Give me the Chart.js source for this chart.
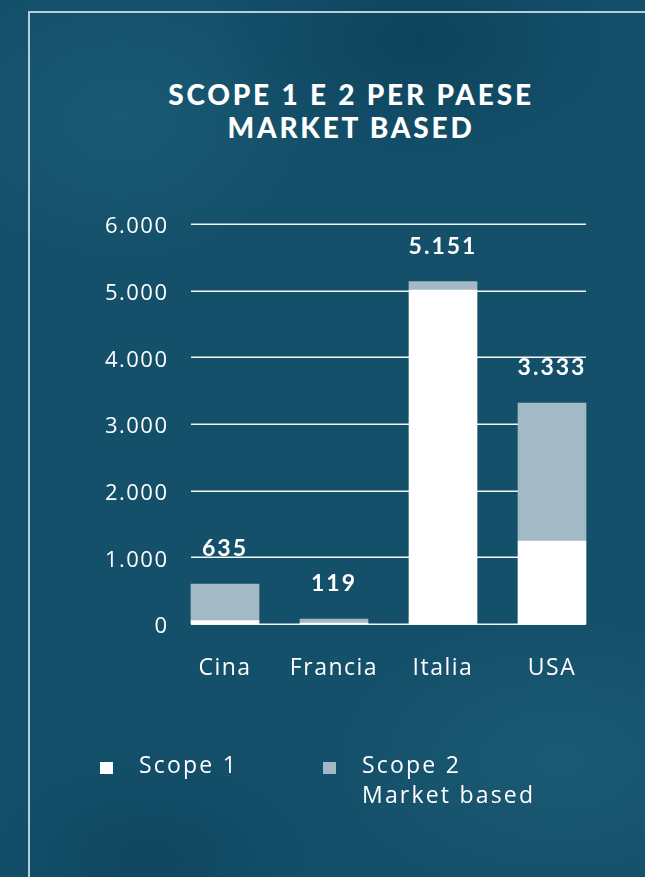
<!DOCTYPE html>
<html lang="it">
<head>
<meta charset="utf-8">
<title>Scope 1 e 2 per paese - market based</title>
<script src="https://cdn.jsdelivr.net/npm/chart.js@4.4.1/dist/chart.umd.min.js"></script>
<style>
  html, body { margin: 0; padding: 0; }
  body {
    width: 645px; height: 877px; overflow: hidden; position: relative;
    background:
      radial-gradient(ellipse 260px 200px at 120px 120px, rgba(40,105,130,0.35), rgba(40,105,130,0) 70%),
      radial-gradient(ellipse 300px 180px at 420px 40px, rgba(5,50,75,0.45), rgba(5,50,75,0) 70%),
      radial-gradient(ellipse 320px 200px at 560px 760px, rgba(45,110,135,0.30), rgba(45,110,135,0) 70%),
      radial-gradient(ellipse 260px 160px at 150px 860px, rgba(5,50,75,0.35), rgba(5,50,75,0) 70%),
      #14506a;
    font-family: "Open Sans", sans-serif;
    color: #fff;
  }
  #frame {
    position: absolute; left: 28px; top: 11px; width: 640px; height: 900px;
    border-left: 2px solid #b4cedc; border-top: 2px solid #b4cedc;
    box-sizing: border-box;
  }
  #title {
    position: absolute; left: 121px; top: 78px; width: 460px;
    text-align: center; font-family: Lato, sans-serif; font-weight: 900;
    font-size: 28px; line-height: 33px; letter-spacing: 2.8px;
  }
  canvas { position: absolute; left: 0; top: 0; }
  #legend { position: absolute; left: 0; top: 0; }
  .item { position: absolute; font-size: 23px; font-weight: 500; line-height: 30px; letter-spacing: 2.2px; white-space: nowrap; }
  .swatch { position: absolute; width: 13px; height: 12px; }
</style>
</head>
<body>
<div id="frame"></div>
<div id="title">SCOPE 1 E 2 PER PAESE<br>MARKET BASED</div>
<canvas id="chart" width="645" height="877"></canvas>
<div id="legend"></div>
<script>
// data
const countries = ['Cina', 'Francia', 'Italia', 'USA'];
const scope1 = [50, 15, 5010, 1245];
const scope2 = [550, 60, 125, 2070];
const totals = ['635', '119', '5.151', '3.333']; // labels printed above the bars
const yTicks = [0, 1000, 2000, 3000, 4000, 5000, 6000];
const legendLines = [['Scope 1'], ['Scope 2', 'Market based']];

const scope1Color = '#ffffff';
const scope2Color = '#a3b9c5';

// thousands with a dot, like 6.000
function itNumber(v) {
    return String(v).replace(/\B(?=(\d{3})+(?!\d))/g, '.');
}

// horizontal lines only as wide as the bars
const gridPlugin = {
    id: 'shortGrid',
    beforeDraw(chart) {
        chart.ctx.letterSpacing = '1.5px';
    },
    beforeDatasetsDraw(chart) {
        const ctx = chart.ctx;
        const y = chart.scales.y;
        const bars = chart.getDatasetMeta(0).data;
        const first = bars[0], last = bars[bars.length - 1];
        const x0 = first.x - first.width / 2;
        const x1 = last.x + last.width / 2;
        ctx.save();
        ctx.strokeStyle = 'rgba(255,255,255,0.95)';
        ctx.lineWidth = 1.5;
        yTicks.forEach(t => {
            const py = Math.round(y.getPixelForValue(t)) + 0.25;
            ctx.beginPath();
            ctx.moveTo(x0, py);
            ctx.lineTo(x1, py);
            ctx.stroke();
        });
        ctx.restore();
    }
};

// totals over each stack
const totalsPlugin = {
    id: 'totals',
    afterDatasetsDraw(chart) {
        const ctx = chart.ctx;
        const top = chart.getDatasetMeta(1).data;
        ctx.save();
        ctx.letterSpacing = '2px';
        ctx.font = 'bold 23px Lato, sans-serif';
        ctx.fillStyle = '#ffffff';
        ctx.textAlign = 'center';
        ctx.textBaseline = 'middle';
        top.forEach((bar, i) => {
            ctx.fillText(totals[i], bar.x, bar.y - 35);
        });
        ctx.restore();
    }
};

const ctx = document.getElementById('chart').getContext('2d');
const chart = new Chart(ctx, {
    type: 'bar',
    data: {
        labels: countries,
        datasets: [
            { label: legendLines[0].join(' '), data: scope1, backgroundColor: scope1Color, barThickness: 68 },
            { label: legendLines[1].join(' '), data: scope2, backgroundColor: scope2Color, barThickness: 68 }
        ]
    },
    options: {
        responsive: false,
        animation: false,
        layout: { padding: { left: 0, right: 38.5, top: 224, bottom: 193 } },
        scales: {
            x: {
                stacked: true,
                grid: { display: false, drawTicks: false },
                border: { display: false },
                ticks: { color: '#ffffff', padding: 31, font: { family: 'Open Sans', size: 23, weight: 500 } },
                afterFit(scale) { scale.height = 60; }
            },
            y: {
                stacked: true,
                min: 0,
                max: 6000,
                grid: { display: false, drawTicks: false },
                border: { display: false },
                ticks: {
                    stepSize: 1000,
                    color: '#ffffff',
                    padding: 2,
                    labelOffset: 3,
                    font: { family: 'Open Sans', size: 22, weight: 500 },
                    callback: v => itNumber(v)
                },
                afterFit(scale) { scale.width = 170.5; }
            }
        },
        plugins: {
            legend: { display: false },
            tooltip: { enabled: false }
        }
    },
    plugins: [gridPlugin, totalsPlugin]
});

// html legend built from the datasets
const legendEl = document.getElementById('legend');
const legendPos = [{ sx: 100, tx: 139 }, { sx: 323, tx: 362 }];
chart.data.datasets.forEach((ds, i) => {
    const sw = document.createElement('div');
    sw.className = 'swatch';
    sw.style.left = legendPos[i].sx + 'px';
    sw.style.top = '762px';
    sw.style.background = ds.backgroundColor;
    legendEl.appendChild(sw);
    const tx = document.createElement('div');
    tx.className = 'item';
    tx.style.left = legendPos[i].tx + 'px';
    tx.style.top = '749px';
    tx.innerHTML = legendLines[i].join('<br>');
    legendEl.appendChild(tx);
});
</script>
</body>
</html>
